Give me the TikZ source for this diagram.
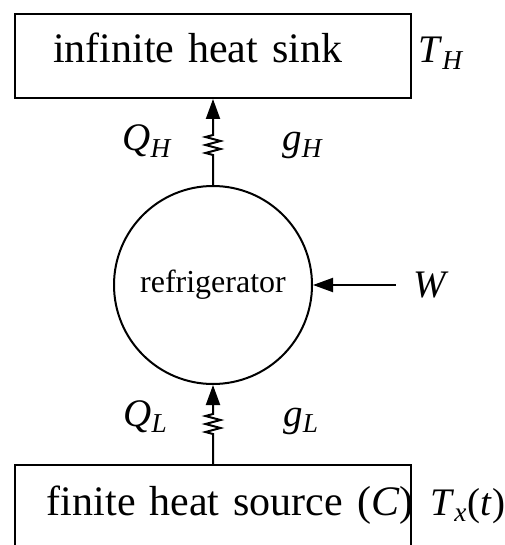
\documentclass[tikz,border=0pt]{standalone}
\usepackage{fontspec}
\setmainfont{Liberation Serif}
\usetikzlibrary{arrows.meta, positioning, decorations.pathmorphing}

\begin{document}
\begin{tikzpicture}[
  x=0.5pt, y=-0.5pt,
  box/.style={draw,line width=1pt,inner sep=0pt,text width=198pt,align=left,
    text depth=17.5pt,font=\fontsize{21}{25}\selectfont},
  lbl/.style={inner sep=0pt,anchor=base west,font=\fontsize{19.5}{23}\selectfont},
  arrow/.style={-{Triangle[length=10pt,width=7pt]},line width=1pt},
  spring/.style 2 args={arrow,decorate,decoration={zigzag,segment length=4pt,
    amplitude=3.75pt,pre length=#1,post length=#2}}
]
\useasboundingbox (0,0) rectangle (504,545);
\clip (0,0) rectangle (504,545);
\node[box,text height=24.5pt] (sink) at (213,56) {\noindent\mbox{\hspace*{19pt}infinite heat sink}};
\node[box,text height=25pt] (source) at (213,507.5) {\noindent\mbox{\hspace*{16pt}finite heat source (\textit{C})}};
\node[circle,draw,line width=1pt,minimum size=99pt,inner sep=0pt,
  font=\fontsize{16}{19}\selectfont] (fridge) at (213,285) {refrigerator};
\node[inner sep=0pt,font=\fontsize{19.5}{23}\selectfont] (w) at (431,285) {\textit{W}};
% temperatures
\node[lbl] (th) at (418,63) {\textit{T}\textsubscript{\textit{H}}};
\node[lbl] (tx) at (430,515) {\textit{T}\textsubscript{\textit{x}}(\textit{t})};
% heat flows and entropy rates
\node[lbl] (qh) at (122,151) {\textit{Q}\textsubscript{\textit{H}}};
\node[lbl] (gh) at (282,151) {\textit{g}\textsubscript{\textit{H}}};
\node[lbl] (ql) at (123,426) {\textit{Q}\textsubscript{\textit{L}}};
\node[lbl] (gl) at (283,426) {\textit{g}\textsubscript{\textit{L}}};
\draw[spring={15pt}{17.5pt}] (fridge) -- (sink);
\draw[spring={15pt}{13.5pt}] (source) -- (fridge);
\draw[arrow,shorten <=8.5pt] (w) -- (fridge);
\end{tikzpicture}
\end{document}
